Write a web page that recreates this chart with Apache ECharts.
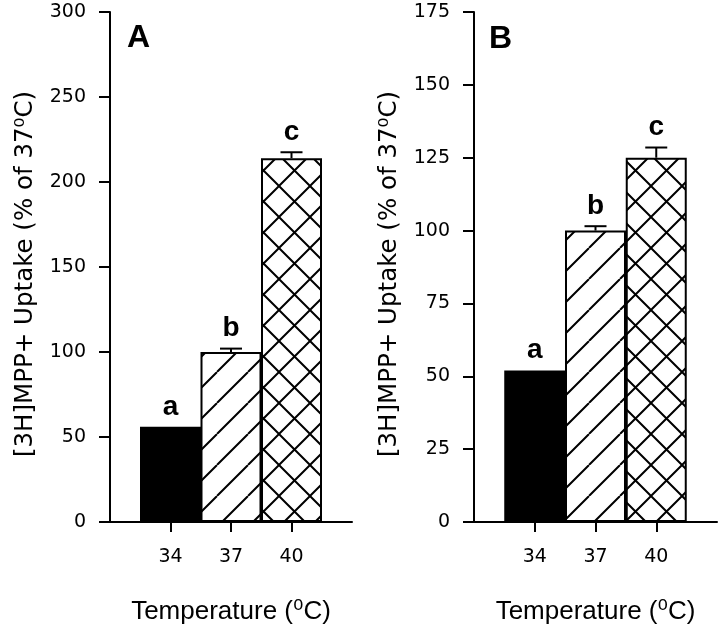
<!DOCTYPE html>
<html lang="en">
<head>
    <meta charset="UTF-8">
    <title>MPP+ uptake vs temperature</title>
</head>
<body style="margin:0;background:#fff">

    <div id="echarts" style="width: 720px; height: 630px"></div>
    <script src="https://cdn.jsdelivr.net/npm/echarts@6/dist/echarts.min.js"></script>
    <script>
        // data
        const categories = ['34', '37', '40'];
        const catPos = [1, 2, 3];
        const letters = ['a', 'b', 'c'];
        const uptakeA = [56, 100, 214];
        const errA = [0, 2, 3.5];
        const uptakeB = [52, 100, 125];
        const errB = [0, 1.5, 3.5];
        const ticksA = [0, 50, 100, 150, 200, 250, 300];
        const ticksB = [0, 25, 50, 75, 100, 125, 150, 175];

        // hatch fills for the bars
        function hatch(cross) {
            const s = 31;
            const c = document.createElement('canvas');
            c.width = c.height = s;
            const g = c.getContext('2d');
            g.fillStyle = '#fff';
            g.fillRect(0, 0, s, s);
            g.strokeStyle = '#000';
            g.lineWidth = 2;
            g.beginPath();
            for (const k of [-s, 0, s]) {
                g.moveTo(k, s);
                g.lineTo(k + s, 0);
                if (cross) {
                    g.moveTo(k, 0);
                    g.lineTo(k + s, s);
                }
            }
            g.stroke();
            return c;
        }
        const fills = ['#000', {image: hatch(false), repeat: 'repeat'}, {image: hatch(true), repeat: 'repeat'}];

        const numFont = 'DejaVu Sans';

        function xAxis(idx) {
            return {
                type: 'value', gridIndex: idx, min: 0, max: 4, interval: 1,
                name: 'Temperature (\u2070C)',
                nameLocation: 'middle', nameGap: 77,
                nameTextStyle: {fontSize: 26, fontFamily: 'Liberation Sans, DejaVu Sans', color: '#000'},
                axisLine: {lineStyle: {color: '#000', width: 2}},
                axisTick: {customValues: catPos, length: 10, lineStyle: {color: '#000', width: 2}},
                axisLabel: {
                    customValues: catPos, margin: 26,
                    fontSize: 19, fontFamily: numFont, color: '#000',
                    formatter: v => categories[catPos.indexOf(v)] || ''
                },
                splitLine: {show: false}
            };
        }

        function yAxis(idx, ticks) {
            return {
                type: 'value', gridIndex: idx,
                min: ticks[0], max: ticks[ticks.length - 1], interval: ticks[1] - ticks[0],
                name: '[3H]MPP+ Uptake (% of 37\u2070C)',
                nameLocation: 'middle', nameGap: 72,
                nameTextStyle: {padding: [0, 14, 0, 0], fontSize: 24.5, fontFamily: 'DejaVu Sans', color: '#000'},
                axisLine: {lineStyle: {color: '#000', width: 2}},
                axisTick: {length: 11, lineStyle: {color: '#000', width: 2}},
                axisLabel: {margin: 24, fontSize: 19, fontFamily: numFont, color: '#000'},
                splitLine: {show: false}
            };
        }

        function bars(idx, vals) {
            return {
                type: 'bar', xAxisIndex: idx, yAxisIndex: idx, barWidth: 61,
                data: vals.map((v, i) => ({
                    value: [catPos[i], v],
                    itemStyle: {color: fills[i], borderColor: '#000', borderWidth: 2}
                })),
                silent: true
            };
        }

        function errorBars(idx, vals, errs) {
            return {
                type: 'custom', xAxisIndex: idx, yAxisIndex: idx, z: 5, silent: true,
                data: vals.map((v, i) => [catPos[i], v, errs[i]]),
                encode: {x: 0, y: 1},
                renderItem: (params, api) => {
                    const x = api.value(0), v = api.value(1), e = api.value(2);
                    const base = api.coord([x, v]);
                    const top = api.coord([x, v + e]);
                    const children = [];
                    if (e > 0) {
                        children.push({type: 'line', shape: {x1: top[0], y1: base[1], x2: top[0], y2: top[1]},
                            style: {stroke: '#000', lineWidth: 2}});
                        children.push({type: 'line', shape: {x1: top[0] - 11, y1: top[1], x2: top[0] + 11, y2: top[1]},
                            style: {stroke: '#000', lineWidth: 2}});
                    }
                    children.push({type: 'text', style: {
                        text: letters[params.dataIndex], x: top[0], y: top[1] - 6,
                        align: 'center', verticalAlign: 'bottom',
                        fontSize: 28, fontWeight: 'bold', fontFamily: 'Liberation Sans', fill: '#000'
                    }});
                    return {type: 'group', children};
                }
            };
        }

        const option = {
            backgroundColor: '#fff',
            animation: false,
            grid: [
                {left: 110, top: 12, width: 242, height: 510},
                {left: 474, top: 12, width: 243, height: 510}
            ],
            xAxis: [xAxis(0), xAxis(1)],
            yAxis: [yAxis(0, ticksA), yAxis(1, ticksB)],
            graphic: [
                {type: 'text', left: 127, top: 22, style: {text: 'A', fontSize: 32, fontWeight: 'bold', fontFamily: 'Liberation Sans', fill: '#000'}},
                {type: 'text', left: 489, top: 23, style: {text: 'B', fontSize: 32, fontWeight: 'bold', fontFamily: 'Liberation Sans', fill: '#000'}}
            ],
            series: [
                bars(0, uptakeA), errorBars(0, uptakeA, errA),
                bars(1, uptakeB), errorBars(1, uptakeB, errB)
            ]
        };

        var chartDom = document.getElementById("echarts");
        var myChart = echarts.init(chartDom);
        myChart.setOption(option);
    </script>
</body>
</html>
